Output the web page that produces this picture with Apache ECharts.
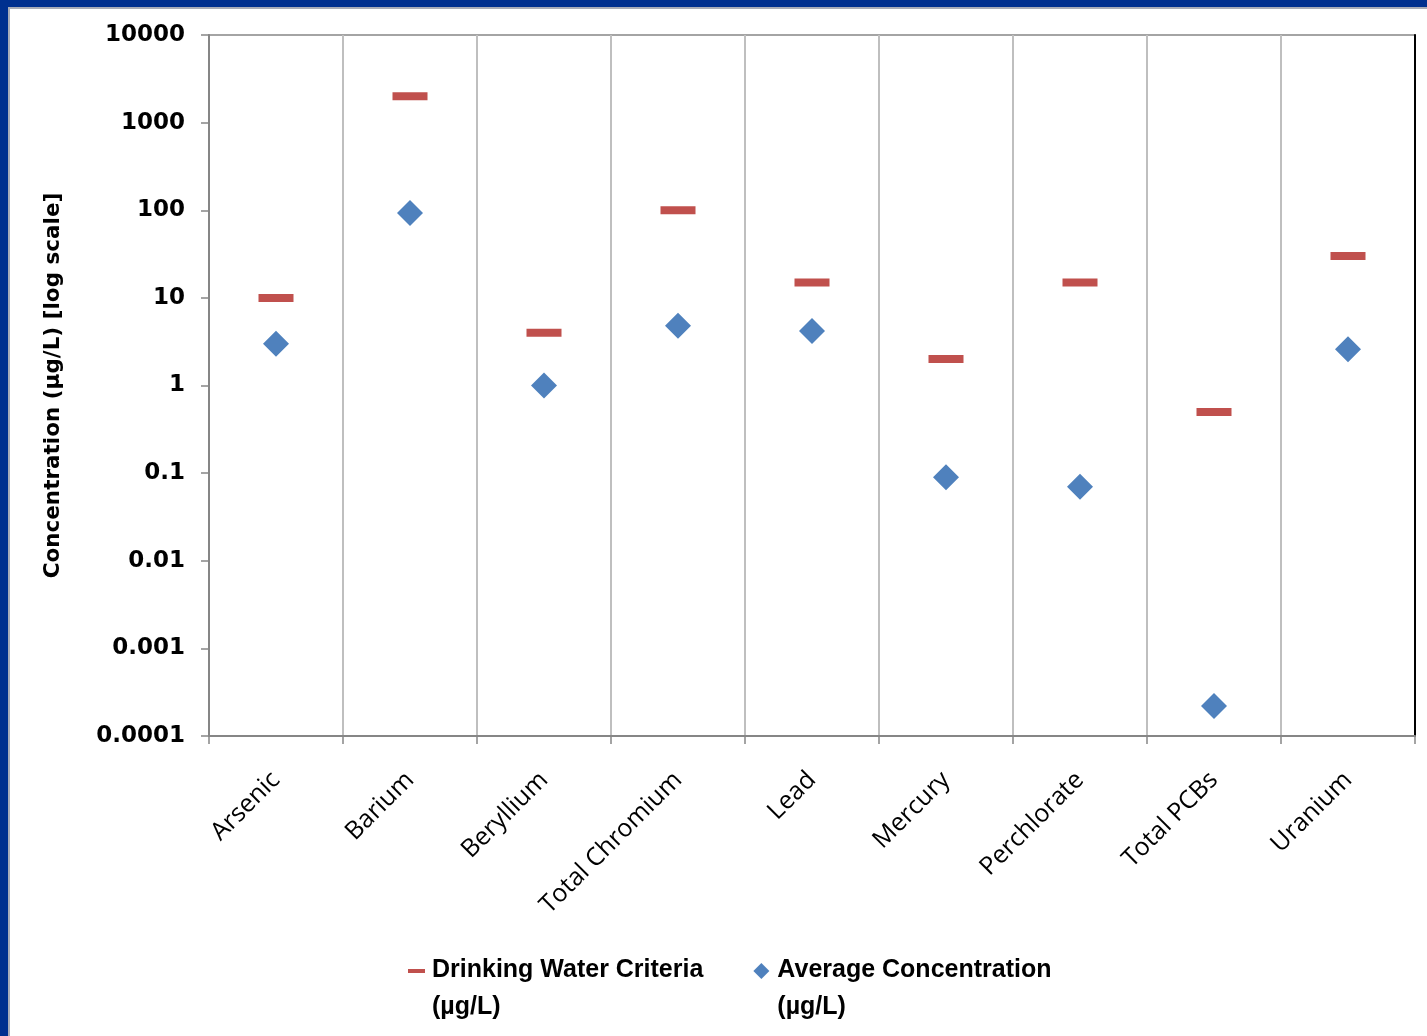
<!DOCTYPE html>
<html>
<head>
<meta charset="utf-8">
<script src="https://cdn.jsdelivr.net/npm/echarts@6/dist/echarts.min.js"></script>
<style>
  html, body { margin: 0; padding: 0; background: #fff; }
  #chart { position: absolute; left: 0; top: 0; width: 1427px; height: 1036px; }
  #frame {
    position: absolute; left: 0; top: 0; width: 1427px; height: 1036px;
    box-sizing: border-box; pointer-events: none;
    border-top: 7px solid #00308F; border-left: 8px solid #00308F;
  }
  #frame::after {
    content: ''; position: absolute; left: 0; top: 0; right: 0; bottom: 0;
    border-top: 2px solid #a9adb8; border-left: 2px solid #a9adb8;
  }
</style>
</head>
<body>
<div id="chart"></div>
<div id="frame"></div>
<script>
// Constituents sampled
const categories = ['Arsenic', 'Barium', 'Beryllium', 'Total Chromium', 'Lead',
                    'Mercury', 'Perchlorate', 'Total PCBs', 'Uranium'];
// Drinking water criteria (µg/L)
const criteria = [10, 2000, 4, 100, 15, 2, 15, 0.5, 30];
// Average measured concentration (µg/L)
const average = [3, 93, 1, 4.8, 4.2, 0.09, 0.07, 0.00022, 2.6];
// Decade tick labels of the log axis, bottom to top
const yTickLabels = ['0.0001', '0.001', '0.01', '0.1', '1', '10', '100', '1000', '10000'];

const criteriaName = 'Drinking Water Criteria (µg/L)';
const averageName = 'Average Concentration (µg/L)';

// Legend icons: the shape sits at the top of a taller box so it lines up with the first text line
const dashIcon = 'path://M0,0 M0,6 L17,6 L17,10 L0,10 Z M19,52';
const diamondIcon = 'path://M8,0 L16,8 L8,16 L0,8 Z M19,52';

const chart = echarts.init(document.getElementById('chart'), null, { renderer: 'canvas' });

chart.setOption({
  backgroundColor: '#ffffff',
  animation: false,
  grid: {
    left: 209, right: 12, top: 35, bottom: 300,
    show: true, borderColor: '#868686', borderWidth: 1.5
  },
  legend: {
    left: 408, top: 952, padding: 0,
    itemWidth: 19, itemHeight: 52, itemGap: 50,
    data: [
      { name: criteriaName, icon: dashIcon },
      { name: averageName, icon: diamondIcon }
    ],
    formatter: name => name.replace(' (', '\n('),
    textStyle: {
      fontFamily: 'Liberation Sans', fontWeight: 'bold', fontSize: 25,
      lineHeight: 37, color: '#000'
    }
  },
  xAxis: {
    type: 'category',
    data: categories,
    boundaryGap: true,
    axisLine: { lineStyle: { color: '#868686', width: 2 } },
    axisTick: { show: true, length: 8, lineStyle: { color: '#868686', width: 1.5 } },
    splitLine: { show: true, lineStyle: { color: '#bfbfbf', width: 2 } },
    axisLabel: {
      interval: 0, rotate: 45, margin: 40,
      fontFamily: 'Open Sans', fontSize: 25, color: '#000'
    }
  },
  yAxis: [{
    type: 'log',
    logBase: 10,
    min: 0.0001,
    max: 10000,
    interval: 1,
    name: 'Concentration (µg/L) [log scale]',
    nameLocation: 'middle',
    nameGap: 145,
    nameTextStyle: {
      fontFamily: 'DejaVu Sans', fontWeight: 'bold', fontSize: 21.5, color: '#000'
    },
    axisLine: { show: true, lineStyle: { color: '#868686', width: 2 } },
    axisTick: { show: true, length: 8, lineStyle: { color: '#868686', width: 1.5 } },
    splitLine: { show: false },
    axisLabel: {
      margin: 24,
      fontFamily: 'DejaVu Sans', fontWeight: 'bold', fontSize: 23, color: '#000',
      formatter: (value, index) => yTickLabels[index]
    }
  }, {
    // right-hand frame edge of the plot area
    type: 'value',
    position: 'right',
    axisLine: { show: true, lineStyle: { color: '#000', width: 2 } },
    axisTick: { show: false },
    axisLabel: { show: false },
    splitLine: { show: false }
  }],
  series: [
    {
      name: criteriaName,
      type: 'scatter',
      data: criteria,
      symbol: 'rect',
      symbolSize: [35, 8],
      itemStyle: { color: '#C0504D', opacity: 1 },
      z: 3
    },
    {
      name: averageName,
      type: 'scatter',
      data: average,
      symbol: 'diamond',
      symbolSize: [26, 26],
      itemStyle: { color: '#4F81BD', opacity: 1 },
      z: 3
    }
  ]
});
</script>
</body>
</html>
